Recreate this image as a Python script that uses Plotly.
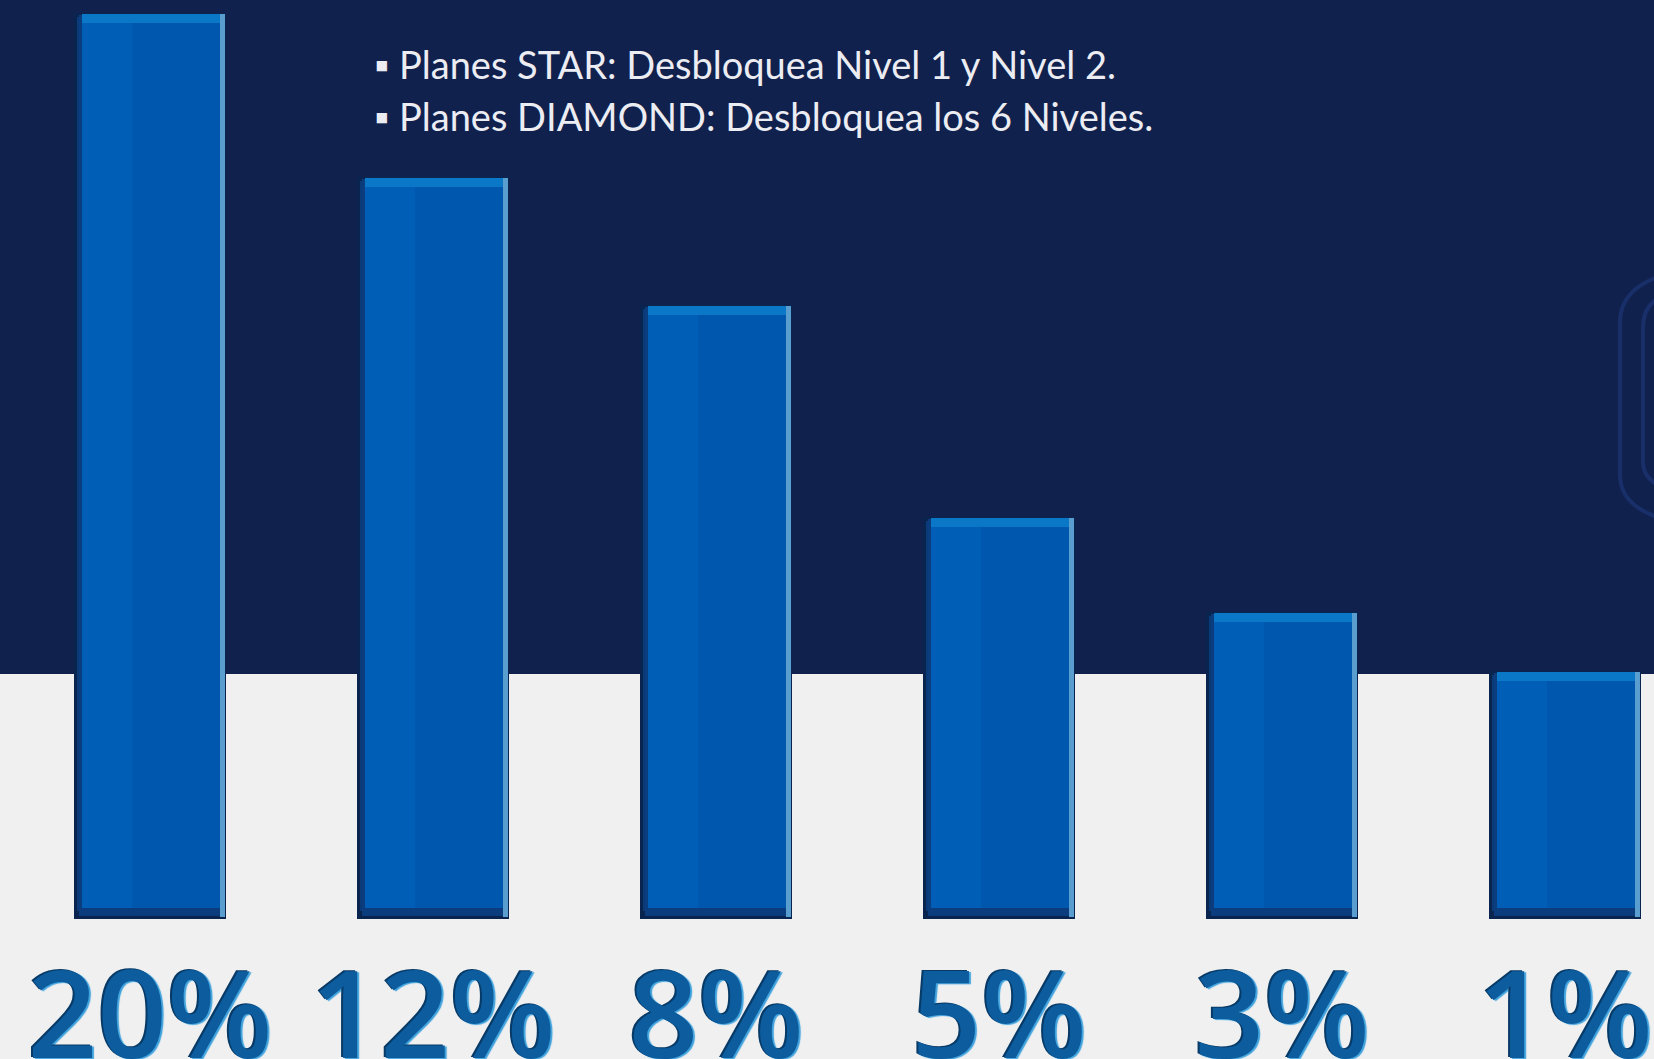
import plotly.graph_objects as go

# ---- data ----
levels = ["Nivel 1", "Nivel 2", "Nivel 3", "Nivel 4", "Nivel 5", "Nivel 6"]
bar_heights = [100, 81.9, 67.8, 44.4, 33.9, 27.4]
pct_labels = ["20%", "12%", "8%", "5%", "3%", "1%"]
notes = ["▪ Planes STAR: Desbloquea Nivel 1 y Nivel 2.",
         "▪ Planes DIAMOND: Desbloquea los 6 Niveles."]

# ---- geometry helpers (layout) ----
FW, FH = 1654, 1059
XR = [-0.530, 5.3145]
YR = [-15.45, 101.44]
ux = (XR[1] - XR[0]) / FW
uy = (YR[1] - YR[0]) / FH
W = 152 * ux

NAVY = "#11214D"
LIGHT = "#F0F0F0"

fig = go.Figure()


def layer(off_px, w_px, lo_px, hi_px, color):
    """Bevel layer: lo/hi are pixel insets from bar bottom / top."""
    base = [lo_px * uy for _ in bar_heights]
    top = [h - hi_px * uy for h in bar_heights]
    fig.add_trace(go.Bar(
        x=levels, y=[t - b for t, b in zip(top, base)], base=base,
        offset=-W / 2 + off_px * ux, width=w_px * ux,
        marker=dict(color=color, line=dict(width=0)),
        hoverinfo="skip", showlegend=False))


layer(0, 152, 0, 0, "#0A2450")          # dark shell
layer(3, 6, 8, 4, "#0B3A78")            # left inner edge
layer(5, 142, 3, 2, "#0A3C7E")          # bottom bevel
layer(8, 138, 11, 1, "#0A78C6")         # top bevel
layer(8, 50, 11, 10, "#005EB6")         # face left
layer(58, 88, 11, 10, "#0058AE")        # face right
layer(146, 5, 2, 1, "#5A9ED0")          # right highlight

fig.add_trace(go.Scatter(
    x=levels, y=[-12.0] * len(levels), mode="text", text=pct_labels,
    textposition="middle center",
    textfont=dict(family="Open Sans", size=122, weight=600, color="#0C5C9E",
                  shadow="-2px -1px 0px #073A66, 2px 1px 1px #3FA2DC"),
    cliponaxis=False, hoverinfo="skip", showlegend=False))


def px(x, y):
    return f"{x / FW:.5f},{1 - y / FH:.5f}"


shapes = [
    dict(type="rect", xref="paper", yref="paper", x0=0, x1=1,
         y0=1 - 674 / FH, y1=1, fillcolor=NAVY, line_width=0, layer="below"),
    dict(type="path", xref="paper", yref="paper", layer="below",
         path=f"M {px(1660, 276)} Q {px(1620, 290)} {px(1620, 322)} L {px(1620, 475)} "
              f"Q {px(1620, 505)} {px(1660, 518)}",
         line=dict(color="#192F69", width=4)),
    dict(type="path", xref="paper", yref="paper", layer="below",
         path=f"M {px(1660, 298)} Q {px(1643, 305)} {px(1643, 328)} L {px(1643, 462)} "
              f"Q {px(1643, 478)} {px(1660, 486)}",
         line=dict(color="#192F69", width=4)),
]

annotations = [
    dict(xref="paper", yref="paper", x=372 / FW, y=1 - yy / FH, xanchor="left",
         yanchor="middle", text=t, showarrow=False,
         font=dict(family="Lato", size=38, color="#ECEDF3"))
    for t, yy in zip(notes, [64, 116])
]

fig.update_layout(
    width=FW, height=FH, margin=dict(l=0, r=0, t=0, b=0),
    paper_bgcolor=LIGHT, plot_bgcolor="rgba(0,0,0,0)",
    barmode="overlay", bargap=0,
    xaxis=dict(range=XR, visible=False, fixedrange=True),
    yaxis=dict(range=YR, visible=False, fixedrange=True),
    shapes=shapes, annotations=annotations,
)

fig.write_html("out.html", config={"displayModeBar": False},
               post_script="document.body.style.margin='0';document.body.style.overflow='hidden';")
